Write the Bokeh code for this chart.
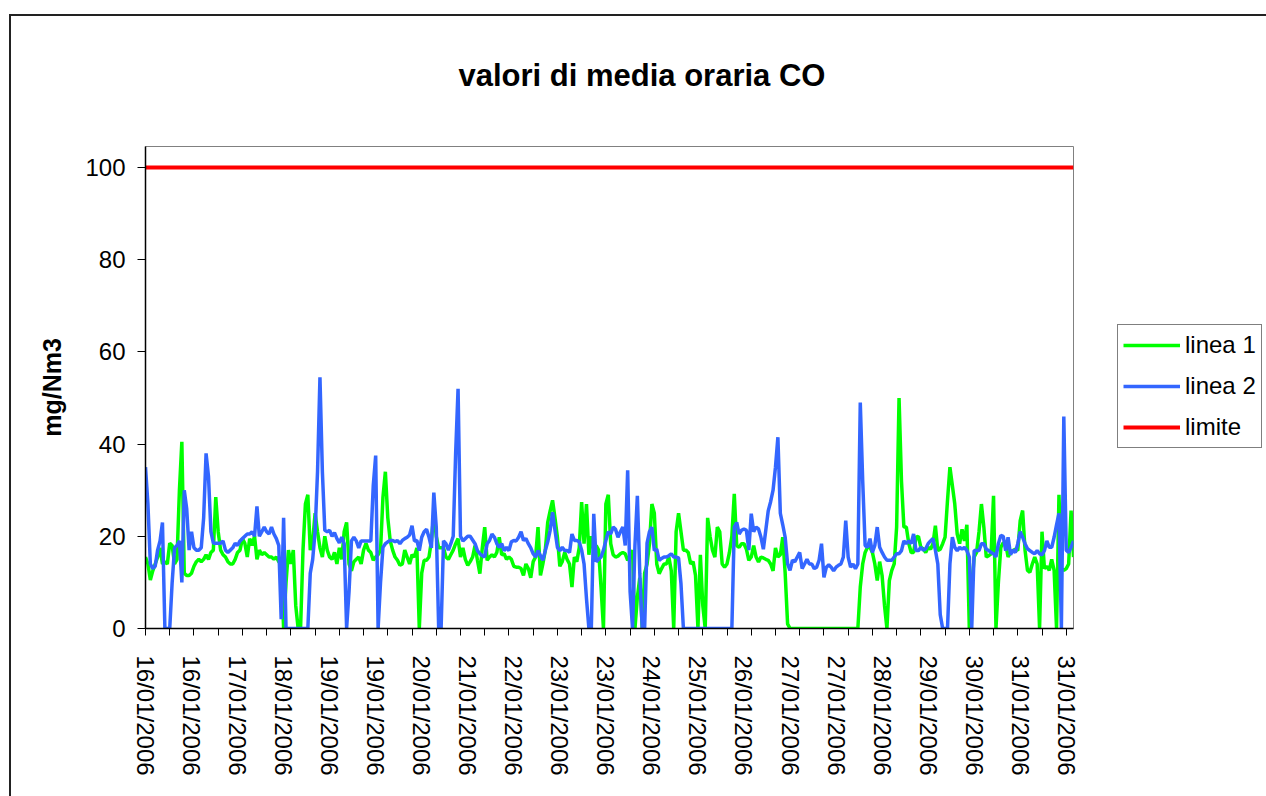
from bokeh.plotting import figure
from bokeh.models import Range1d, FixedTicker, Legend, LegendItem
from bokeh.embed import file_html
from bokeh.resources import INLINE

# ---------------- data ----------------
date_labels = ["16/01/2006", "16/01/2006", "17/01/2006", "18/01/2006", "19/01/2006",
               "19/01/2006", "20/01/2006", "21/01/2006", "22/01/2006", "23/01/2006",
               "23/01/2006", "24/01/2006", "25/01/2006", "26/01/2006", "27/01/2006",
               "27/01/2006", "28/01/2006", "29/01/2006", "30/01/2006", "31/01/2006",
               "31/01/2006"]
LABEL_EVERY = 19   # one date label every 19 hourly values
TICK_EVERY = 10    # one tick mark every 10 hourly values

y_ticks = [0, 20, 40, 60, 80, 100]

linea1 = [
    15.5, 14, 10.5, 12.5, 14, 15.5, 17.5, 14, 14.5, 14,
    18.5, 18, 14, 15, 30, 40.5, 12, 11.5, 11.5, 12,
    13.5, 14.5, 15, 14.5, 15, 16, 15, 16.5, 17, 28.5,
    21, 17, 16, 15.5, 14.5, 14, 14, 15, 16.5, 17,
    19.5, 18.5, 15.5, 19.5, 18, 20, 15, 17, 16, 16.5,
    16, 15.5, 15.5, 15, 15.5, 14.5, 14, 0, 10, 17,
    14, 17, 5, 0, 0, 17, 27, 29, 17, 19,
    25, 21, 17.5, 15.5, 20, 17, 15.5, 15, 16.5, 14,
    17.5, 15, 21, 23, 14, 12.5, 14.5, 15, 15.5, 14,
    17, 18.5, 17, 16.5, 14.8, 15.5, 16, 17, 28.5, 34,
    24, 19, 17, 15.5, 14.8, 13.7, 14, 17, 15.5, 14,
    16, 15.5, 17.5, 0, 12, 14.8, 14.8, 15.5, 19, 25,
    20, 17.5, 17.5, 17.5, 15.5, 15, 16, 17, 18.4, 19.5,
    15.5, 17.5, 15, 13.7, 14.5, 15.5, 18, 14.8, 11.9, 17.5,
    22, 14.8, 15.5, 16, 15.5, 16.5, 19.8, 16, 16.2, 15,
    15.5, 15, 13.5, 13.3, 13.3, 13, 11.5, 14, 13, 11,
    14.5, 15.5, 22, 11.5, 14, 17, 23, 25.5, 27.8, 24,
    19.8, 13.5, 14.5, 16.5, 15, 14, 9, 15.5, 14.5, 17.5,
    27.4, 18.4, 27, 16, 20, 17, 18, 17, 9, 0,
    27, 29, 18.4, 16, 15.5, 15.7, 16.2, 16.5, 16.2, 14.8,
    15.5, 17, 0, 6.8, 11, 0, 12, 14, 18.4, 27,
    25, 14, 11.9, 13, 14, 14, 15.5, 12.5, 0, 21,
    25, 21, 17, 17, 16.5, 14, 14.5, 11.5, 0, 16,
    5, 0, 24, 20, 17, 15.5, 22, 21, 14, 13.3,
    14, 16.5, 20, 29.2, 18, 17.6, 18.4, 18.4, 17.2, 14.8,
    15.5, 18, 15.5, 14.4, 15.5, 15.3, 15, 14.8, 14, 12.5,
    17.5, 15.5, 16, 19.8, 12, 1, 0, 0, 0, 0,
    0, 0, 0, 0, 0, 0, 0, 0, 0, 0,
    0, 0, 0, 0, 0, 0, 0, 0, 0, 0,
    0, 0, 0, 0, 0, 9, 14, 16.5, 17.6, 17.6,
    16.5, 14, 10.4, 14.5, 11.5, 5, 0, 10.4, 12.6, 14,
    22, 50, 32, 22, 22, 18.5, 16.5, 16.5, 19.8, 20,
    17.6, 17.3, 16.5, 17.6, 17.2, 18.4, 22.3, 16.9, 17.2, 18.4,
    19.8, 27.8, 35, 31, 27, 20.5, 18.4, 21.5, 19, 22.5,
    0, 9, 15.5, 16.5, 21, 27, 22, 15.5, 15.8, 16.2,
    28.8, 0, 10, 17.6, 18.6, 18.4, 15.5, 16.5, 16.9, 17.2,
    16.9, 23.4, 25.6, 17, 12.6, 12.2, 14, 15.5, 14, 0,
    21, 13, 13.5, 12.6, 15, 12.6, 0, 29, 13, 12.6,
    13, 14, 25.6, 15.5,
]

linea2 = [
    35, 27, 14, 13, 13.5, 17, 19, 23, 0, 0,
    0, 10, 17.5, 18, 19, 10, 30, 26, 17, 21,
    17.5, 17, 17, 17.5, 24, 38, 33, 21, 18.5, 18.5,
    18.5, 18.5, 19, 17, 16.5, 17, 17.5, 18.5, 18, 19,
    19.5, 20, 20.5, 20.5, 21, 20, 26.5, 20, 21, 22,
    21, 20.5, 22, 20.5, 19.5, 18, 2, 24, 0, 0,
    0, 0, 0, 0, 0, 0, 0, 0, 12, 15,
    21, 34, 54.5, 34, 21.3, 21, 21.3, 20, 20.8, 19.5,
    18.6, 19.8, 18.4, 0, 8, 19, 19.8, 19, 17.5, 19,
    19, 19, 19, 19, 31, 37.5, 0, 10, 17.6, 18.4,
    18.8, 19.1, 19.1, 18.8, 19.1, 18.4, 19.1, 19.5, 19.8, 20.3,
    22.3, 19, 19.1, 16.9, 19.8, 21, 21.5, 19.8, 17.5, 29.5,
    22, 0, 0, 19, 18.4, 17, 18.4, 20, 38, 52,
    20, 19, 19.5, 20, 20, 19.2, 18.4, 16.9, 16.2, 15.8,
    15.5, 18.4, 19.1, 20.5, 19.8, 18.4, 17.6, 18.4, 16.9, 17.6,
    16.9, 18.8, 19.1, 19, 19.8, 21, 19.1, 19.5, 18.4, 17.5,
    16.2, 15.5, 16.9, 15.8, 14.8, 16.9, 18.8, 21.3, 25.2, 21.3,
    17.6, 16.9, 17.6, 16.9, 16.9, 16.5, 20.5, 19.1, 19.1, 18.8,
    17, 14, 6.5, 0, 0, 24.9, 14.5, 15, 15.5, 17,
    19.1, 21, 20.5, 22, 21.5, 19.8, 21, 22, 18, 34.3,
    8, 0, 18, 28.8, 12, 0, 0, 18.5, 21, 22,
    16.9, 17.2, 14.8, 15.2, 15.5, 15.5, 15.8, 16.2, 15.5, 15.5,
    15.3, 9.7, 0, 0, 0, 0, 0, 0, 0, 0,
    0, 0, 0, 0, 0, 0, 0, 0, 0, 0,
    0, 0, 0, 22, 23, 20.5, 21.3, 21.6, 21.3, 17,
    24.9, 21, 22, 21.6, 19.8, 17.2, 21.3, 25.5, 27.5, 30,
    35, 41.5, 25, 22.5, 19.8, 14, 12.6, 14.8, 14.5, 15.5,
    16.5, 13, 14, 15, 14, 14, 13, 13.3, 14.8, 18.4,
    11.1, 13.3, 13.8, 13.3, 12.5, 13.3, 13.7, 14, 15.5, 23.4,
    15.5, 13.3, 14, 13, 14, 49, 32, 18, 17.6, 19.5,
    16.5, 18, 22, 17.6, 16.5, 15.5, 14.8, 14.8, 14.8, 15.5,
    16.2, 16.2, 16.9, 19, 18.4, 19, 18.4, 20.5, 16.9, 16.9,
    17.6, 17, 17.3, 18.4, 19, 19.5, 17, 14, 3, 0,
    0, 0, 14, 19.8, 17.6, 16.9, 17.6, 17.2, 17.6, 16.9,
    15.5, 0, 16.9, 16.9, 16.9, 18.4, 18.4, 17.2, 16.9, 16.5,
    16.2, 15.5, 18.4, 20.2, 20, 16.9, 19.8, 16, 17, 16.5,
    18.4, 21, 19.8, 18.4, 17.3, 16.9, 16.5, 16.2, 16.9, 16.2,
    16, 16.9, 19, 17.6, 17.6, 19.8, 22.5, 25, 0, 46,
    17, 16.5, 17.6, 19,
]

limite_value = 100
# ---------------------------------------

n = len(linea1)
x = list(range(n))
limite = [limite_value] * n

FONT = "Liberation Sans"

p = figure(frame_width=928, frame_height=482,
           min_border_left=145, min_border_right=193,
           min_border_top=146, min_border_bottom=168,
           x_range=Range1d(0, n - 1), y_range=Range1d(0, 104.56),
           output_backend="svg", toolbar_location=None)

p.background_fill_color = "white"
p.border_fill_color = "white"
p.border_fill_alpha = 0
p.styles = {
    "background": "linear-gradient(#222222, #222222) 9px 14px / 1400px 2px no-repeat, "
                  "linear-gradient(#222222, #222222) 9px 14px / 2px 900px no-repeat, #ffffff"
}
p.outline_line_color = "#808080"
p.outline_line_width = 1
p.xgrid.visible = False
p.ygrid.visible = False

# title
p.title.text = "valori di media oraria CO"
p.title.align = "left"
p.title.offset = 313
p.title.text_font = FONT
p.title.text_font_size = "31px"
p.title.text_font_style = "bold"
p.title.text_color = "black"
p.title.standoff = 107

# x axis
label_pos = list(range(0, n, LABEL_EVERY))
tick_pos = list(range(0, n, TICK_EVERY))
xa = p.xaxis[0]
xa.ticker = FixedTicker(ticks=label_pos, minor_ticks=tick_pos)
xa.major_label_overrides = {pos: lab for pos, lab in zip(label_pos, date_labels)}
xa.major_label_orientation = "vertical"
xa.major_label_text_font = FONT
xa.major_label_text_font_size = "24px"
xa.major_label_text_color = "black"
xa.major_label_standoff = 20
xa.major_tick_out = 0
xa.major_tick_in = 0
xa.minor_tick_out = 7
xa.minor_tick_in = 0
xa.minor_tick_line_color = "black"
xa.axis_line_color = "black"
xa.axis_line_width = 1.5

# y axis
ya = p.yaxis[0]
ya.ticker = FixedTicker(ticks=y_ticks, minor_ticks=[])
ya.major_label_text_font = FONT
ya.major_label_text_font_size = "24px"
ya.major_label_text_color = "black"
ya.major_label_standoff = 12
ya.major_tick_out = 8
ya.major_tick_in = 0
ya.major_tick_line_color = "black"
ya.minor_tick_line_color = None
ya.axis_line_color = "black"
ya.axis_line_width = 1.5
ya.axis_label = "mg/Nm3"
ya.axis_label_text_font = FONT
ya.axis_label_text_font_size = "25px"
ya.axis_label_text_font_style = "bold"
ya.axis_label_text_color = "black"
ya.axis_label_standoff = 16

# series
r1 = p.line(x, linea1, line_color="#00FF00", line_width=3.5)
r2 = p.line(x, linea2, line_color="#3366FF", line_width=3.5)
r3 = p.line(x, limite, line_color="#FF0000", line_width=4)

legend = Legend(items=[LegendItem(label="linea 1", renderers=[r1]),
                       LegendItem(label="linea 2", renderers=[r2]),
                       LegendItem(label="limite", renderers=[r3])],
                location=(44, 180))
legend.border_line_color = "black"
legend.border_line_width = 1
legend.background_fill_color = "white"
legend.background_fill_alpha = 1
legend.padding = 5
legend.spacing = 11
legend.margin = 0
legend.glyph_width = 57
legend.glyph_height = 30
legend.label_height = 30
legend.label_standoff = 5
legend.label_text_font = FONT
legend.label_text_font_size = "24px"
legend.label_text_color = "black"
p.add_layout(legend, "right")

open("out.html", "w").write(file_html(p, INLINE))
